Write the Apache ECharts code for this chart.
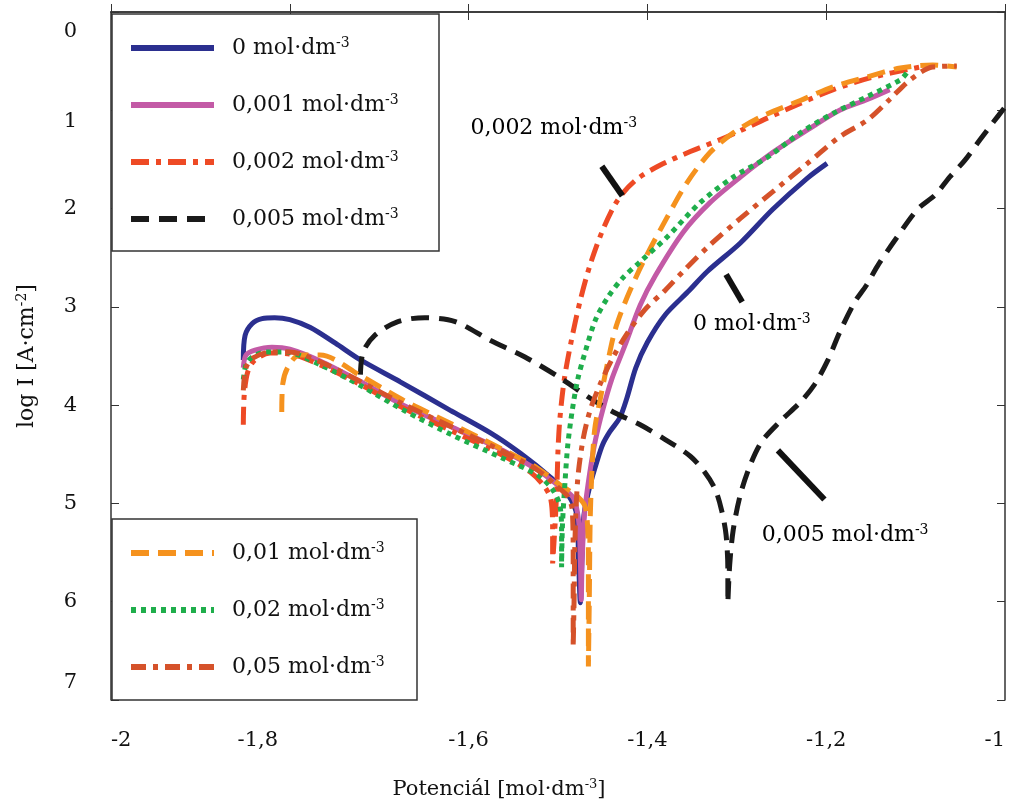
<!DOCTYPE html>
<html>
<head>
<meta charset="utf-8">
<script src="https://cdn.jsdelivr.net/npm/echarts@6/dist/echarts.min.js"></script>
<style>
  html, body { margin: 0; padding: 0; background: #fff; }
  #chart { width: 1010px; height: 802px; }
</style>
</head>
<body>
<div id="chart"></div>
<script>
// polarizační křivky: [potenciál, log I]
const c0 = [[-1.852,3.54],[-1.850,3.29],[-1.842,3.17],[-1.831,3.12],[-1.817,3.11],[-1.800,3.13],[-1.777,3.21],[-1.749,3.37],[-1.721,3.54],[-1.677,3.76],[-1.621,4.05],[-1.576,4.28],[-1.542,4.49],[-1.509,4.73],[-1.489,4.91],[-1.479,5.12],[-1.477,5.57],[-1.475,6.01],
  [-1.473,5.52],[-1.471,5.12],[-1.464,4.81],[-1.456,4.56],[-1.450,4.40],[-1.442,4.27],[-1.431,4.13],[-1.423,3.93],[-1.413,3.62],[-1.400,3.36],[-1.380,3.08],[-1.355,2.85],[-1.333,2.64],[-1.296,2.35],[-1.260,2.01],[-1.221,1.69],[-1.199,1.54]];
const c001 = [[-1.852,3.62],[-1.849,3.49],[-1.839,3.44],[-1.820,3.41],[-1.800,3.43],[-1.766,3.55],[-1.721,3.76],[-1.673,4.00],[-1.617,4.23],[-1.562,4.46],[-1.523,4.66],[-1.498,4.83],[-1.483,4.94],[-1.477,5.17],[-1.475,5.57],[-1.474,5.98],
  [-1.473,5.57],[-1.470,5.07],[-1.464,4.66],[-1.458,4.35],[-1.450,4.05],[-1.440,3.74],[-1.425,3.39],[-1.408,2.98],[-1.391,2.68],[-1.360,2.24],[-1.330,1.94],[-1.296,1.68],[-1.260,1.43],[-1.221,1.20],[-1.185,1.00],[-1.154,0.89],[-1.129,0.79]];
const c002 = [[-1.852,4.20],[-1.851,3.90],[-1.847,3.66],[-1.839,3.54],[-1.822,3.47],[-1.800,3.48],[-1.766,3.59],[-1.721,3.79],[-1.673,4.03],[-1.617,4.27],[-1.562,4.51],[-1.531,4.68],[-1.515,4.83],[-1.508,4.96],[-1.506,5.27],[-1.506,5.61],
  [-1.503,5.17],[-1.501,4.76],[-1.500,4.46],[-1.498,4.15],[-1.493,3.74],[-1.485,3.34],[-1.475,2.93],[-1.464,2.57],[-1.450,2.22],[-1.433,1.91],[-1.413,1.71],[-1.386,1.56],[-1.352,1.42],[-1.311,1.27],[-1.266,1.08],[-1.229,0.93],[-1.192,0.79],[-1.151,0.67],[-1.095,0.56]];
const c005 = [[-1.721,3.69],[-1.718,3.46],[-1.705,3.29],[-1.679,3.15],[-1.649,3.11],[-1.615,3.15],[-1.576,3.34],[-1.537,3.51],[-1.498,3.72],[-1.464,3.93],[-1.436,4.08],[-1.408,4.20],[-1.380,4.35],[-1.352,4.52],[-1.336,4.68],[-1.324,4.86],[-1.317,5.07],[-1.312,5.32],[-1.310,5.68],[-1.310,6.01],
  [-1.308,5.63],[-1.304,5.27],[-1.296,4.91],[-1.285,4.61],[-1.272,4.37],[-1.252,4.17],[-1.229,3.97],[-1.213,3.79],[-1.198,3.54],[-1.185,3.26],[-1.168,2.95],[-1.155,2.78],[-1.143,2.59],[-1.123,2.32],[-1.098,2.01],[-1.078,1.86],[-1.062,1.68],[-1.045,1.51],[-1.028,1.30],[-1.013,1.12],[-1.001,0.98]];
const c01 = [[-1.809,4.07],[-1.808,3.79],[-1.802,3.61],[-1.789,3.49],[-1.766,3.49],[-1.721,3.70],[-1.673,3.95],[-1.617,4.20],[-1.562,4.45],[-1.523,4.64],[-1.498,4.81],[-1.478,4.93],[-1.469,5.05],[-1.466,5.57],[-1.466,6.66],
  [-1.465,5.98],[-1.464,5.17],[-1.462,4.66],[-1.459,4.25],[-1.453,3.95],[-1.445,3.59],[-1.436,3.23],[-1.423,2.91],[-1.405,2.55],[-1.378,2.09],[-1.356,1.74],[-1.330,1.43],[-1.304,1.23],[-1.274,1.07],[-1.229,0.90],[-1.192,0.76],[-1.154,0.66],[-1.117,0.57],[-1.081,0.54],[-1.054,0.56]];
const c02 = [[-1.852,3.74],[-1.849,3.59],[-1.842,3.51],[-1.826,3.46],[-1.805,3.46],[-1.766,3.59],[-1.721,3.80],[-1.673,4.05],[-1.617,4.31],[-1.562,4.54],[-1.523,4.71],[-1.506,4.86],[-1.498,5.02],[-1.496,5.27],[-1.496,5.65],
  [-1.495,5.22],[-1.492,4.76],[-1.489,4.40],[-1.484,4.05],[-1.478,3.74],[-1.469,3.44],[-1.458,3.13],[-1.444,2.90],[-1.428,2.71],[-1.408,2.54],[-1.378,2.29],[-1.341,1.94],[-1.304,1.68],[-1.266,1.48],[-1.229,1.23],[-1.192,1.03],[-1.154,0.86],[-1.117,0.69],[-1.110,0.62]];
const c05 = [[-1.852,3.85],[-1.849,3.62],[-1.841,3.52],[-1.822,3.46],[-1.800,3.46],[-1.766,3.56],[-1.721,3.76],[-1.673,3.99],[-1.617,4.23],[-1.562,4.47],[-1.523,4.66],[-1.502,4.82],[-1.489,4.93],[-1.484,5.07],[-1.483,5.57],[-1.483,6.46],
  [-1.482,5.98],[-1.481,5.37],[-1.478,4.76],[-1.472,4.35],[-1.464,4.05],[-1.453,3.79],[-1.440,3.54],[-1.424,3.29],[-1.403,3.03],[-1.380,2.83],[-1.358,2.62],[-1.330,2.37],[-1.296,2.10],[-1.260,1.83],[-1.221,1.54],[-1.185,1.27],[-1.154,1.10],[-1.129,0.89],[-1.106,0.69],[-1.081,0.56],[-1.054,0.55]];

const names = ['0 mol·dm-3', '0,001 mol·dm-3', '0,002 mol·dm-3', '0,005 mol·dm-3', '0,01 mol·dm-3', '0,02 mol·dm-3', '0,05 mol·dm-3'];
const curves = [c0, c001, c002, c005, c01, c02, c05];
const colors = ['#2b2f8f', '#c35aa6', '#ee4a25', '#1a1a1a', '#f5921e', '#1fae4b', '#d5522a'];
const dashes = ['solid', 'solid', [18, 7, 5, 7], [18, 10], [18, 9], [5, 5], [15, 7, 5, 7]];

// popisky u křivek (v souřadnicích dat)
const notes = [
  { text: '0,002 mol·dm', pos: [-1.598, 1.18] },
  { text: '0 mol·dm', pos: [-1.349, 3.18] },
  { text: '0,005 mol·dm', pos: [-1.272, 5.32] }
];
const leaders = [
  [[-1.451, 1.57], [-1.428, 1.87]],
  [[-1.312, 2.67], [-1.294, 2.95]],
  [[-1.254, 4.46], [-1.202, 4.96]]
];

const FONT = '"DejaVu Serif", "Liberation Serif", serif';
const rich = {
  a: { fontFamily: FONT, fontSize: 21, color: '#111' },
  s: { fontFamily: FONT, fontSize: 13, color: '#111', verticalAlign: 'top', padding: [0, 0, 10, 0] }
};
const richBig = {
  a: { fontFamily: FONT, fontSize: 22, color: '#111' },
  s: { fontFamily: FONT, fontSize: 14, color: '#111', verticalAlign: 'top', padding: [0, 0, 10, 0] }
};
const sup = (base, exp, tail) => '{a|' + base + '}{s|' + exp + '}' + (tail ? '{a|' + tail + '}' : '');
const fmt = v => String(Math.round(v * 10) / 10).replace('.', ',');

// posunuté popisky os jako v předloze
const tickRich = {
  t: { fontFamily: FONT, fontSize: 21, color: '#111' },
  l: { fontFamily: FONT, fontSize: 21, color: '#111', padding: [0, 64, 0, 0] },
  d: { fontFamily: FONT, fontSize: 21, color: '#111', padding: [40, 0, 0, 0] },
  d2: { fontFamily: FONT, fontSize: 21, color: '#111', padding: [22, 0, 0, 0] },
  u: { fontFamily: FONT, fontSize: 21, color: '#111', padding: [0, 0, 34, 0] }
};
const xFmt = v => {
  const r = Math.round(v * 10) / 10;
  return (r === -1.8 ? '{l|' : '{t|') + fmt(r) + '}';
};
const yFmt = v => {
  const r = Math.round(v);
  const k = r === 0 ? 'd' : r === 1 ? 'd2' : r === 7 ? 'u' : 't';
  return '{' + k + '|' + r + '}';
};

const chart = echarts.init(document.getElementById('chart'));

const legendBase = {
  orient: 'vertical', left: 128, itemWidth: 83, itemHeight: 22, itemGap: 34, padding: 0,
  itemStyle: { opacity: 0 },
  lineStyle: { width: 6 },
  formatter: n => sup(n.replace('-3', ''), '-3'),
  textStyle: { rich: { a: Object.assign({}, richBig.a, { padding: [0, 0, 0, 13] }), s: richBig.s } },
  z: 6
};

const option = {
  backgroundColor: '#fff',
  animation: false,
  grid: { left: 111, right: 5, top: 12, bottom: 102, outerBoundsMode: 'none' },
  legend: [
    Object.assign({}, legendBase, { top: 36, data: names.slice(0, 4) }),
    Object.assign({}, legendBase, { top: 541, data: names.slice(4) })
  ],
  xAxis: [
    {
      type: 'value', min: -2, max: -1, interval: 0.2,
      name: sup('Potenciál [mol·dm', '-3', ']'), nameLocation: 'middle', nameGap: 78,
      nameTextStyle: { rich: rich, padding: [0, 118, 0, 0] },
      axisLine: { lineStyle: { color: '#333', width: 1.5 } },
      axisTick: { inside: true, length: 8, lineStyle: { color: '#333' } },
      axisLabel: { margin: 30, rich: tickRich, formatter: xFmt,
        alignMinLabel: 'left', alignMaxLabel: 'right' },
      splitLine: { show: false }
    },
    {
      type: 'value', position: 'top', min: -2, max: -1, interval: 0.2,
      axisLine: { lineStyle: { color: '#333', width: 1.5 } },
      axisTick: { inside: true, length: 8, lineStyle: { color: '#333' } },
      axisLabel: { show: false }, splitLine: { show: false }
    }
  ],
  yAxis: [
    {
      type: 'value', inverse: true, min: 0, max: 7, interval: 1,
      name: sup('log I [A·cm', '-2', ']'), nameLocation: 'middle', nameGap: 72,
      nameTextStyle: { rich: richBig },
      axisLine: { show: true, lineStyle: { color: '#333', width: 1.5 } },
      axisTick: { show: true, inside: true, length: 8, lineStyle: { color: '#333' } },
      axisLabel: { margin: 34, rich: tickRich, formatter: yFmt },
      splitLine: { show: false }
    },
    {
      type: 'value', position: 'right', inverse: true, min: 0, max: 7, interval: 1,
      axisLine: { show: true, lineStyle: { color: '#333', width: 1.5 } },
      axisTick: { show: true, inside: true, length: 8, lineStyle: { color: '#333' } },
      axisLabel: { show: false }, splitLine: { show: false }
    }
  ],
  series: curves.map((d, i) => ({
    name: names[i],
    type: 'line',
    data: d,
    symbol: 'none',
    smooth: 0.3,
    lineStyle: { color: colors[i], width: 5, type: dashes[i] },
    itemStyle: { color: colors[i] },
    z: 2 + i
  }))
};

chart.setOption(option);

// rámečky legend, popisky a odkazové čáry
const px = p => chart.convertToPixel({ xAxisIndex: 0, yAxisIndex: 0 }, p);
const graphics = [
  { type: 'rect', z: 5, shape: { x: 112, y: 14, width: 327, height: 237 }, style: { fill: '#fff', stroke: '#333', lineWidth: 1.5 } },
  { type: 'rect', z: 5, shape: { x: 112, y: 519, width: 305, height: 181 }, style: { fill: '#fff', stroke: '#333', lineWidth: 1.5 } }
];
notes.forEach(n => {
  const p = px(n.pos);
  graphics.push({
    type: 'text', z: 5, x: p[0], y: p[1],
    style: { text: sup(n.text, '-3'), rich: richBig, verticalAlign: 'middle' }
  });
});
leaders.forEach(l => {
  const a = px(l[0]), b = px(l[1]);
  graphics.push({
    type: 'line', z: 5,
    shape: { x1: a[0], y1: a[1], x2: b[0], y2: b[1] },
    style: { stroke: '#111', lineWidth: 6 }
  });
});
chart.setOption({ graphic: graphics });
</script>
</body>
</html>
